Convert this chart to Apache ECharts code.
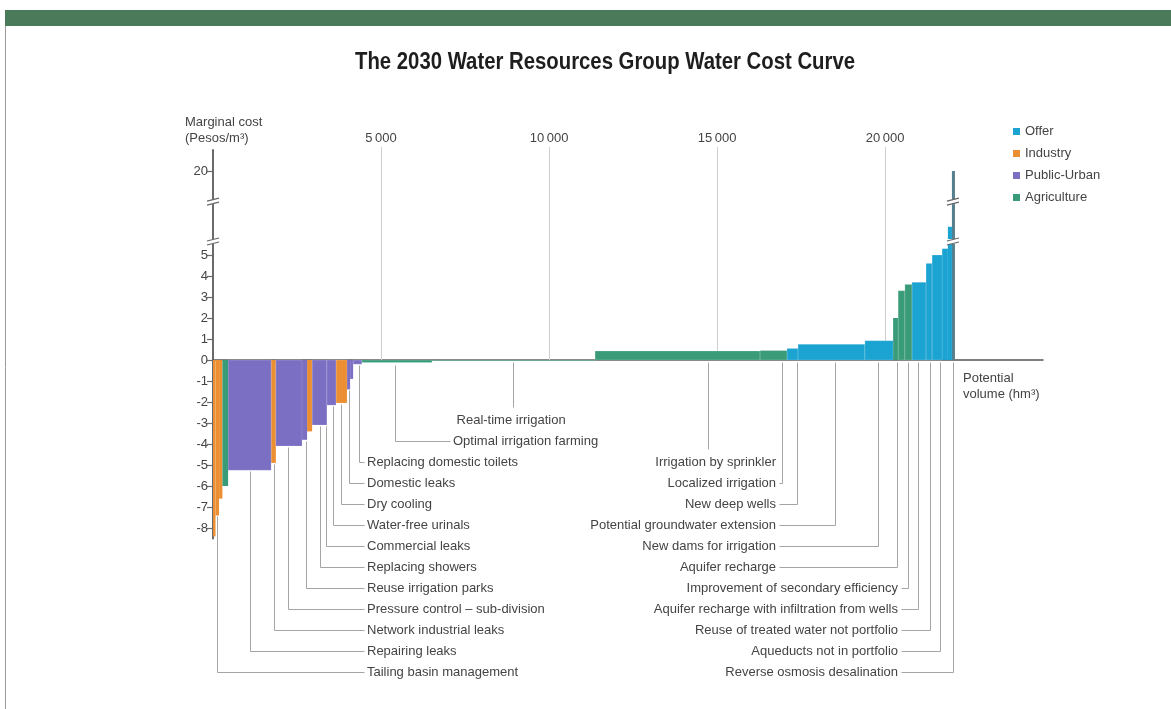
<!DOCTYPE html>
<html>
<head>
<meta charset="utf-8">
<script src="https://cdn.jsdelivr.net/npm/echarts@6/dist/echarts.min.js"></script>
<style>
html, body { margin: 0; padding: 0; background: #fff; }
#main { width: 1171px; height: 709px; }
</style>
</head>
<body>
<div id="main"></div>
<script>
// cost curve: each measure's volume (hm3), marginal cost (pesos/m3) and sector, left to right
var barVolume = [75, 105, 100, 170, 1280, 140, 780, 150, 150, 440, 270, 330, 90, 90, 260, 2090, 4850,
                 4910, 800, 330, 1990, 840, 150, 200, 210, 420, 180, 300, 170, 120, 90];
var barCost = [-8.4, -7.4, -6.6, -6.0, -5.25, -4.9, -4.1, -3.8, -3.4, -3.1, -2.15, -2.05, -1.4, -0.9, -0.2, -0.12, -0.04,
               0.43, 0.45, 0.55, 0.75, 0.92, 2.0, 3.3, 3.6, 3.7, 4.6, 5.0, 5.3, 9, 20];
var barSector = ['Industry', 'Industry', 'Industry', 'Agriculture', 'Public-Urban', 'Industry', 'Public-Urban', 'Public-Urban',
                 'Industry', 'Public-Urban', 'Public-Urban', 'Industry', 'Public-Urban', 'Public-Urban', 'Public-Urban',
                 'Agriculture', 'Agriculture', 'Agriculture', 'Agriculture', 'Offer', 'Offer', 'Offer', 'Agriculture',
                 'Agriculture', 'Agriculture', 'Offer', 'Offer', 'Offer', 'Offer', 'Offer', 'Desalination'];

var sectors = ['Offer', 'Industry', 'Public-Urban', 'Agriculture'];
var sectorColors = { 'Offer': '#1ba3d2', 'Industry': '#ec8f32', 'Public-Urban': '#7a6fc2', 'Agriculture': '#3a9b78', 'Desalination': '#56808f' };

var xTicks = [5000, 10000, 15000, 20000];
var xTickLabels = ['5\u2009000', '10\u2009000', '15\u2009000', '20\u2009000'];
var yTicks = [-8, -7, -6, -5, -4, -3, -2, -1, 0, 1, 2, 3, 4, 5, 20];

// labelled measures and where they sit on the volume axis
var leftNames = ['Replacing domestic toilets', 'Domestic leaks', 'Dry cooling', 'Water-free urinals', 'Commercial leaks',
                 'Replacing showers', 'Reuse irrigation parks', 'Pressure control \u2013 sub-division',
                 'Network industrial leaks', 'Repairing leaks', 'Tailing basin management'];
var leftAt = [4345, 4060, 3809, 3571, 3370, 3184, 2780, 2232, 1815, 1101, 119];
var midNames = ['Real-time irrigation', 'Optimal irrigation farming'];
var midAt = [8930, 5420];
var rightNames = ['Irrigation by sprinkler', 'Localized irrigation', 'New deep wells', 'Potential groundwater extension',
                  'New dams for irrigation', 'Aquifer recharge', 'Improvement of secondary efficiency',
                  'Aquifer recharge with infiltration from wells', 'Reuse of treated water not portfolio',
                  'Aqueducts not in portfolio', 'Reverse osmosis desalination'];
var rightAt = [14731, 16933, 17380, 18511, 19790, 20356, 20683, 20981, 21338, 21636, 22030];

// broken y axis: above 5.5 the scale is squeezed so 20 sits where 9 would be
var BREAK_FROM = 5.5, BREAK_TOP = 9, BREAK_REAL = 20;
function plot(v) {
    return v <= BREAK_FROM ? v : BREAK_FROM + (v - BREAK_FROM) * (BREAK_TOP - BREAK_FROM) / (BREAK_REAL - BREAK_FROM);
}

var starts = [];
var acc = 0;
barVolume.forEach(function (w) { starts.push(acc); acc += w; });

function costAt(x) {
    for (var i = 0; i < starts.length; i++) {
        if (x >= starts[i] && x < starts[i] + barVolume[i]) return barCost[i];
    }
    return 0;
}

function sectorData(name) {
    var out = [];
    barSector.forEach(function (s, i) {
        if (s === name) out.push([starts[i], starts[i] + barVolume[i], barCost[i]]);
    });
    return out;
}

function renderBar(params, api) {
    var a = api.coord([api.value(0), plot(api.value(2))]);
    var b = api.coord([api.value(1), 0]);
    var w = Math.max(b[0] - a[0], 0.8);
    return {
        type: 'rect',
        shape: { x: a[0], y: Math.min(a[1], b[1]), width: w, height: Math.max(Math.abs(b[1] - a[1]), 0.6) },
        style: { fill: api.visual('color'), stroke: w > 6 ? 'rgba(255,255,255,0.3)' : null, lineWidth: 0.6 }
    };
}

var FAMILY = '"Liberation Sans", Arial, sans-serif';
var FONT = '13px ' + FAMILY;
var ROW0 = -4.86;           // first label row, in axis units (one row per unit)
var LEFT_TEXT_X = 367, MID_TEXT_X = 453;

function renderLeaders(params, api) {
    var kids = [];
    function seg(x1, y1, x2, y2) {
        kids.push({ type: 'line', shape: { x1: Math.round(x1) + 0.5, y1: Math.round(y1) + 0.5, x2: Math.round(x2) + 0.5, y2: Math.round(y2) + 0.5 },
                    style: { stroke: '#a5a5a5', lineWidth: 1 } });
    }
    function label(text, x, y, align) {
        kids.push({ type: 'text', style: { text: text, x: x, y: y, align: align, verticalAlign: 'middle', fill: '#444', font: FONT } });
    }
    var zeroY = api.coord([0, 0])[1];

    leftNames.forEach(function (name, i) {
        var top = api.coord([leftAt[i], plot(costAt(leftAt[i]))]);
        var y = api.coord([0, ROW0 - i])[1];
        seg(top[0], top[1] + 1, top[0], y);
        seg(top[0], y, LEFT_TEXT_X - 3, y);
        label(name, LEFT_TEXT_X, y, 'left');
    });

    midNames.forEach(function (name, i) {
        var top = api.coord([midAt[i], plot(costAt(midAt[i]))]);
        var y = api.coord([0, ROW0 + 2 - i])[1];
        if (top[0] < MID_TEXT_X) {
            seg(top[0], top[1] + 2, top[0], y);
            seg(top[0], y, MID_TEXT_X - 3, y);
            label(name, MID_TEXT_X, y, 'left');
        } else {
            seg(top[0], zeroY + 2, top[0], y - 13);
            label(name, top[0] - 2, y, 'center');
        }
    });

    rightNames.forEach(function (name, i) {
        var x = api.coord([rightAt[i], 0])[0];
        var y = api.coord([0, ROW0 - i])[1];
        var textEnd = i < 6 ? 776 : 898;
        if (x > textEnd) {
            seg(x, zeroY + 2, x, y);
            seg(x, y, textEnd + 3, y);
        } else {
            seg(x, zeroY + 2, x, y - 13);
        }
        label(name, textEnd, y, 'right');
    });
    return { type: 'group', children: kids };
}

function renderGridLines(params, api) {
    var a = api.coord([api.value(0), 0]);
    var b = api.coord([api.value(0), 10.15]);
    return { type: 'line', shape: { x1: Math.round(a[0]) + 0.5, y1: a[1], x2: Math.round(b[0]) + 0.5, y2: b[1] },
             style: { stroke: '#cfcfcf', lineWidth: 1 } };
}

// axis break symbols, on the y axis and on the tallest bars
var breakMarks = [5.62, 7.52];
function renderBreaks(params, api) {
    var kids = [];
    [0, starts[starts.length - 1]].forEach(function (xv, k) {
        breakMarks.forEach(function (bv) {
            var p = api.coord([xv, bv]);
            var cx = k === 0 ? p[0] : p[0] + 1;
            kids.push({ type: 'rect', shape: { x: cx - 6, y: p[1] - 3, width: 12, height: 5 }, style: { fill: '#fff' } });
            kids.push({ type: 'line', shape: { x1: cx - 6, y1: p[1] - 1, x2: cx + 6, y2: p[1] - 4 }, style: { stroke: '#666', lineWidth: 1.2 } });
            kids.push({ type: 'line', shape: { x1: cx - 6, y1: p[1] + 3, x2: cx + 6, y2: p[1] }, style: { stroke: '#666', lineWidth: 1.2 } });
        });
    });
    return { type: 'group', children: kids };
}

// the title is a condensed bold face: squeeze a regular bold to the width it takes
var TITLE = 'The 2030 Water Resources Group Water Cost Curve';
var TITLE_FONT = 'bold 23px ' + FAMILY;
var titleCtx = document.createElement('canvas').getContext('2d');
titleCtx.font = TITLE_FONT;
var titleScale = 500 / titleCtx.measureText(TITLE).width;

var chart = echarts.init(document.getElementById('main'));

var series = [{
    type: 'custom',
    name: 'gridlines',
    xAxisIndex: 0,
    yAxisIndex: 0,
    silent: true,
    clip: false,
    renderItem: renderGridLines,
    data: xTicks.map(function (v) { return [v]; }),
    z: 1
}];

sectors.concat(['Desalination']).forEach(function (s) {
    series.push({
        type: 'custom',
        name: s,
        xAxisIndex: 0,
        yAxisIndex: 0,
        itemStyle: { color: sectorColors[s] },
        renderItem: renderBar,
        data: sectorData(s),
        z: 3
    });
});

series.push({
    type: 'custom',
    name: 'leaders',
    xAxisIndex: 0,
    yAxisIndex: 0,
    silent: true,
    clip: false,
    renderItem: renderLeaders,
    data: [[0]],
    z: 4
});
series.push({
    type: 'custom',
    name: 'breaks',
    xAxisIndex: 0,
    yAxisIndex: 0,
    silent: true,
    clip: false,
    renderItem: renderBreaks,
    data: [[0]],
    z: 5
});

var option = {
    animation: false,
    backgroundColor: '#fff',
    legend: {
        data: sectors,
        orient: 'vertical',
        left: 1008,
        top: 120,
        icon: 'rect',
        itemWidth: 7,
        itemHeight: 7,
        itemGap: 9,
        textStyle: { fontFamily: FAMILY, fontSize: 13, color: '#444' }
    },
    grid: { left: 213, right: 128, top: 150, bottom: 170.5 },
    xAxis: [{
        type: 'value',
        min: 0,
        max: 24700,
        position: 'bottom',
        axisLine: { onZero: true, lineStyle: { color: '#555', width: 1.5 } },
        axisTick: { show: false },
        axisLabel: { show: false },
        splitLine: { show: false }
    }, {
        type: 'value',
        min: 0,
        max: 24700,
        position: 'top',
        axisLine: { show: false, onZero: false },
        axisTick: { show: false },
        splitLine: { show: false },
        axisLabel: {
            customValues: xTicks,
            margin: 5,
            color: '#444',
            fontFamily: FAMILY,
            fontSize: 13,
            formatter: function (v) { return xTickLabels[xTicks.indexOf(v)] || ''; }
        }
    }],
    yAxis: {
        type: 'value',
        min: -8.5,
        max: 10,
        axisLine: { show: true, onZero: false, lineStyle: { color: '#6a6a6a', width: 2 } },
        axisTick: { show: true, length: 6, customValues: yTicks.map(plot), lineStyle: { color: '#6a6a6a', width: 1.2 } },
        axisLabel: {
            customValues: yTicks.map(plot),
            margin: 5,
            color: '#444',
            fontFamily: FAMILY,
            fontSize: 13,
            formatter: function (v) {
                for (var i = 0; i < yTicks.length; i++) {
                    if (Math.abs(plot(yTicks[i]) - v) < 1e-6) return String(yTicks[i]);
                }
                return '';
            }
        },
        splitLine: { show: false }
    },
    graphic: [
        { type: 'rect', shape: { x: 5, y: 10, width: 1166, height: 16 }, style: { fill: '#4a7a5a' }, silent: true },
        { type: 'line', shape: { x1: 5.5, y1: 26, x2: 5.5, y2: 709 }, style: { stroke: '#9a9a9a', lineWidth: 1 }, silent: true },
        { type: 'text', x: 605, y: 63, scaleX: titleScale, silent: true,
          style: { text: TITLE, font: TITLE_FONT, fill: '#1e1e1e', align: 'center', verticalAlign: 'middle' } },
        { type: 'text', left: 185, top: 114, silent: true,
          style: { text: 'Marginal cost\n(Pesos/m\u00b3)', fill: '#444', font: FONT, lineHeight: 16 } },
        { type: 'text', left: 963, top: 370, silent: true,
          style: { text: 'Potential\nvolume (hm\u00b3)', fill: '#444', font: FONT, lineHeight: 16 } }
    ],
    series: series
};

chart.setOption(option);
</script>
</body>
</html>
